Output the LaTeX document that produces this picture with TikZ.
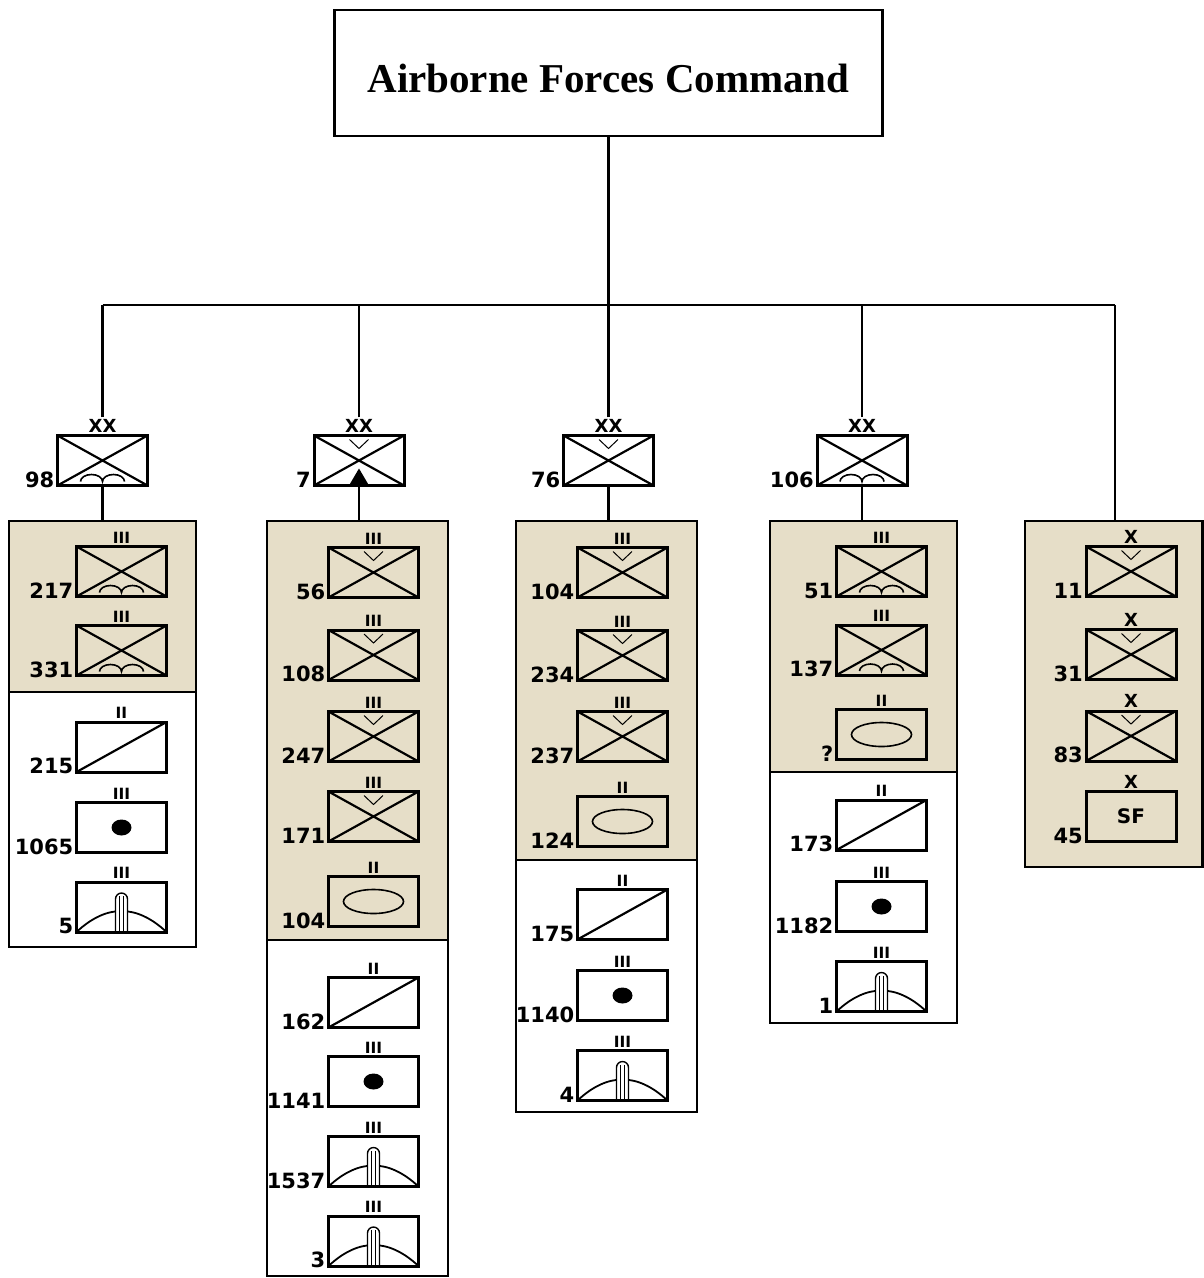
\documentclass[tikz,border=0pt]{standalone}
\usepackage{fontspec}
\setmainfont{DejaVu Sans}
\newfontfamily\cmdfont{Liberation Serif}
\usepackage{tikz}
\usetikzlibrary{positioning}
\definecolor{paneltan}{RGB}{230,222,200}

% symbols inside the unit boxes
\newcommand{\symX}{\draw[line width=2.2pt] (path picture bounding box.south west) -- (path picture bounding box.north east) (path picture bounding box.north west) -- (path picture bounding box.south east);}
\newcommand{\symWings}{\draw[line width=1.6pt] ([shift={(-22pt,4pt)}]path picture bounding box.south) arc[start angle=180,end angle=0,x radius=11pt,y radius=7pt] arc[start angle=180,end angle=0,x radius=11pt,y radius=7pt];}
\newcommand{\symChev}{\draw[line width=1pt] ([shift={(-9.5pt,-4pt)}]path picture bounding box.north) -- ([shift={(0pt,-13pt)}]path picture bounding box.north) -- ([shift={(9.5pt,-4pt)}]path picture bounding box.north);}
\newcommand{\symPeak}{\fill ([xshift=-10pt]path picture bounding box.south) -- ([yshift=17pt]path picture bounding box.south) -- ([xshift=10pt]path picture bounding box.south) -- cycle;}
\newcommand{\symOval}{\draw[line width=1.6pt] (path picture bounding box.center) ellipse[x radius=30pt,y radius=12pt];}
\newcommand{\symDiag}{\draw[line width=2.2pt] (path picture bounding box.south west) -- (path picture bounding box.north east);}
\newcommand{\symDot}{\fill (path picture bounding box.center) ellipse[x radius=10pt,y radius=8pt];}
\newcommand{\symMsl}{\draw[line width=1.8pt] (path picture bounding box.south west) .. controls +(30pt,28pt) and +(-30pt,28pt) .. (path picture bounding box.south east);
  \draw[line width=1.4pt,fill=white] ([xshift=-6pt]path picture bounding box.south) -- ++(0pt,33pt) arc[start angle=180,end angle=0,radius=6pt] -- ++(0pt,-33pt);
  \draw[line width=1pt] ([xshift=-2pt]path picture bounding box.south) -- ++(0pt,36pt) ([xshift=2pt]path picture bounding box.south) -- ++(0pt,36pt);}

\begin{document}
\begin{tikzpicture}[x=1pt,y=-1pt,
          unit/.style={draw,rectangle,line width=3pt,minimum width=90pt,minimum height=50pt,inner sep=0pt},
          para/.style={unit,path picture={\symX\symWings}},
          aslt/.style={unit,path picture={\symX\symChev}},
          mtn/.style={unit,path picture={\symX\symChev\symPeak}},
          armd/.style={unit,path picture={\symOval}},
          recce/.style={unit,path picture={\symDiag}},
          arty/.style={unit,path picture={\symDot}},
          adef/.style={unit,path picture={\symMsl}},
          ech/.style={font=\bfseries\fontsize{15.5}{16}\selectfont,inner sep=1.5pt},
          big/.style={font=\bfseries\fontsize{18}{18}\selectfont},
          lab/.style={font=\bfseries\fontsize{21}{21}\selectfont,inner sep=1.5pt,anchor=base east},
          cap/.style 2 args={label={[ech]above:#1},append after command={node[lab] at (\tikzlastnode.south west) {#2}}},
          bcap/.style 2 args={label={[ech,big]above:#1},append after command={node[lab] at (\tikzlastnode.south west) {#2}}},
          cmdbox/.style={draw,line width=2.5pt,minimum width=548pt,minimum height=126pt,text height=38pt,text depth=0pt,font=\cmdfont\bfseries\fontsize{41}{41}\selectfont},
          conn/.style={draw,line width=2.3pt},
          shaded/.style={draw,line width=2.5pt,fill=paneltan},
          plain/.style={draw,line width=2.5pt}
        ]
        \useasboundingbox (0,0) rectangle (1204,1278);

        %panels
        \draw[shaded] (9,521) rectangle (196,692);
        \draw[plain] (9,692) rectangle (196,947);
        \draw[shaded] (267,521) rectangle (448,940);
        \draw[plain] (267,940) rectangle (448,1276);
        \draw[shaded] (516,521) rectangle (697,860);
        \draw[plain] (516,860) rectangle (697,1112);
        \draw[shaded] (770,521) rectangle (957,772);
        \draw[plain] (770,772) rectangle (957,1023);
        \draw[shaded] (1025,521) rectangle (1202.5,867);
        \coordinate (p98) at (102.5,521);
        \coordinate (p7) at (359,521);
        \coordinate (p76) at (608.5,521);
        \coordinate (p106) at (862,521);
        \coordinate (p5) at (1115,521);

        %command
        \node[cmdbox] (afc) at (608.5,73) {Airborne Forces Command};
        \coordinate (bar) at (608.5,305);

        %divisions
        \node[para] (div98) at (102.5,460.5) {};
        \node[mtn] (div7) at (359,460.5) {};
        \node[aslt] (div76) at (608.5,460.5) {};
        \node[para] (div106) at (862,460.5) {};
        \node[ech,big,above=0pt of div98] (x98) {XX};
        \node[ech,big,above=0pt of div7] (x7) {XX};
        \node[ech,big,above=0pt of div76] (x76) {XX};
        \node[ech,big,above=0pt of div106] (x106) {XX};
        \node[lab] (n98) at (div98.south west) {98};
        \node[lab] (n7) at (div7.south west) {7};
        \node[lab] (n76) at (div76.south west) {76};
        \node[lab] (n106) at (div106.south west) {106};

        \path
        (afc) edge[conn] (bar)
        (x98.north) edge[conn] (x98.north |- bar)
        (x7.north) edge[conn] (x7.north |- bar)
        (x76.north) edge[conn] (x76.north |- bar)
        (x106.north) edge[conn] (x106.north |- bar)
        (p5) edge[conn] (p5 |- bar)
        (x98.north |- bar) edge[conn] (p5 |- bar)
        (div98) edge[conn] (p98)
        (div7) edge[conn] (p7)
        (div76) edge[conn] (p76)
        (div106) edge[conn] (p106)
        ;

        %98
        \node[para,cap={III}{217}] (a217) at (121.5,571.5) {};
        \node[para,cap={III}{331}] (a331) at (121.5,650.5) {};
        \node[recce,cap={II}{215}] (a215) at (121.5,747) {};
        \node[arty,cap={III}{1065}] (a1065) at (121.5,827.5) {};
        \node[adef,cap={III}{5}] (a5) at (121.5,907) {};

        %7
        \node[aslt,cap={III}{56}] (b56) at (373.5,572.5) {};
        \node[aslt,cap={III}{108}] (b108) at (373.5,655) {};
        \node[aslt,cap={III}{247}] (b247) at (373.5,736.5) {};
        \node[aslt,cap={III}{171}] (b171) at (373.5,816.5) {};
        \node[armd,cap={II}{104}] (b104) at (373.5,901.5) {};
        \node[recce,cap={II}{162}] (b162) at (373.5,1002.5) {};
        \node[arty,cap={III}{1141}] (b1141) at (373.5,1081.5) {};
        \node[adef,cap={III}{1537}] (b1537) at (373.5,1161.5) {};
        \node[adef,cap={III}{3}] (b3) at (373.5,1241) {};

        %76
        \node[aslt,cap={III}{104}] (c104) at (622.5,572.5) {};
        \node[aslt,cap={III}{234}] (c234) at (622.5,655.5) {};
        \node[aslt,cap={III}{237}] (c237) at (622.5,736.5) {};
        \node[armd,cap={II}{124}] (c124) at (622.5,821.5) {};
        \node[recce,cap={II}{175}] (c175) at (622.5,914.5) {};
        \node[arty,cap={III}{1140}] (c1140) at (622.5,995.5) {};
        \node[adef,cap={III}{4}] (c4) at (622.5,1075.5) {};

        %106
        \node[para,cap={III}{51}] (d51) at (881.5,571.5) {};
        \node[para,cap={III}{137}] (d137) at (881.5,650) {};
        \node[armd,cap={II}{?}] (dq) at (881.5,734.5) {};
        \node[recce,cap={II}{173}] (d173) at (881.5,825) {};
        \node[arty,cap={III}{1182}] (d1182) at (881.5,906.5) {};
        \node[adef,cap={III}{1}] (d1) at (881.5,986.5) {};

        %brigades
        \node[aslt,bcap={X}{11}] (e11) at (1131,571.5) {};
        \node[aslt,bcap={X}{31}] (e31) at (1131,654.5) {};
        \node[aslt,bcap={X}{83}] (e83) at (1131,736) {};
        \node[unit,bcap={X}{45},font=\bfseries\fontsize{20}{20}\selectfont] (e45) at (1131,816.5) {SF};
    \end{tikzpicture}
\end{document}
